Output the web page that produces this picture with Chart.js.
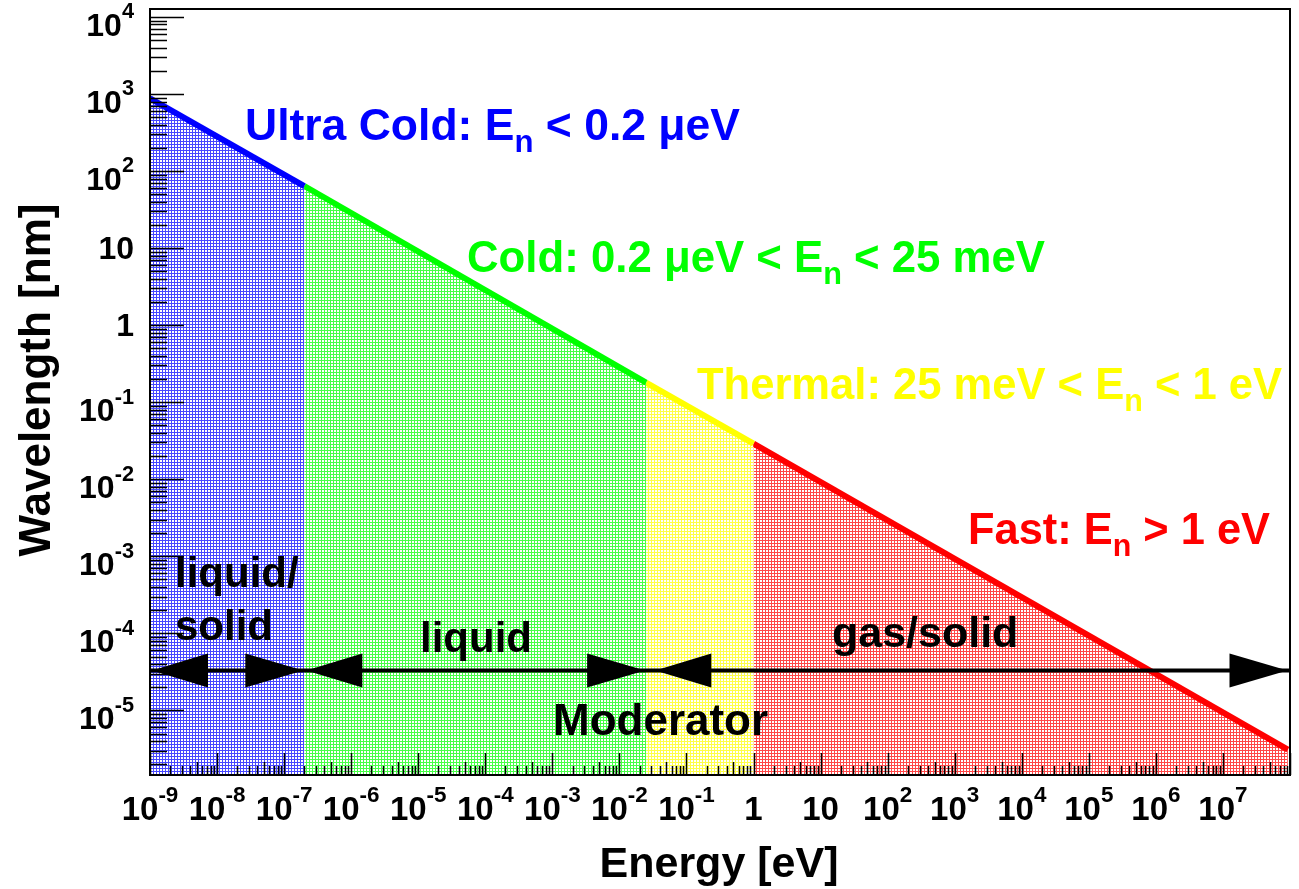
<!DOCTYPE html>
<html>
<head>
<meta charset="utf-8">
<script src="https://cdn.jsdelivr.net/npm/chart.js@4.4.0/dist/chart.umd.min.js"></script>
<style>
html, body { margin: 0; padding: 0; background: #fff; }
#wrap { width: 1299px; height: 889px; }
</style>
</head>
<body>
<div id="wrap"><canvas id="neutronChart" width="1299" height="889"></canvas></div>
<script>
// energy [eV] and wavelength [nm] at the ends of each region
const ultraColdE = [1e-9, 2e-7];
const ultraColdL = [880, 64];
const coldE = [2e-7, 0.025];
const coldL = [64, 0.18];
const thermalE = [0.025, 1];
const thermalL = [0.18, 0.029];
const fastE = [1, 9.3e7];
const fastL = [0.029, 3.1e-6];

// moderator arrows, [from, to] in eV at one wavelength
const moderatorY = 3.3e-5;
const moderatorSpans = [[1e-9, 2e-7], [2e-7, 0.025], [0.032, 9.5e7]];

// axis ticks
const xTickValues = [1e-9, 1e-8, 1e-7, 1e-6, 1e-5, 1e-4, 1e-3, 1e-2, 1e-1, 1, 10, 1e2, 1e3, 1e4, 1e5, 1e6, 1e7];
const xTickLabels = ['10^-9', '10^-8', '10^-7', '10^-6', '10^-5', '10^-4', '10^-3', '10^-2', '10^-1', '1', '10', '10^2', '10^3', '10^4', '10^5', '10^6', '10^7'];
const yTickValues = [1e-5, 1e-4, 1e-3, 1e-2, 1e-1, 1, 10, 1e2, 1e3, 1e4];
const yTickLabels = ['10^-5', '10^-4', '10^-3', '10^-2', '10^-1', '1', '10', '10^2', '10^3', '10^4'];

const FONT = '"Liberation Sans", Arial, Helvetica, sans-serif';

// dotted fill like ROOT's fill style
function makePattern(r, g, b) {
    const c = document.createElement('canvas');
    c.width = 3; c.height = 3;
    const p = c.getContext('2d');
    p.fillStyle = '#fff';
    p.fillRect(0, 0, 3, 3);
    p.fillStyle = 'rgba(' + r + ',' + g + ',' + b + ',0.72)';
    p.fillRect(0, 0, 3, 1);
    p.fillRect(0, 1, 1, 2);
    return p.createPattern(c, 'repeat');
}

function pts(xs, ys) {
    return xs.map((x, i) => ({x: x, y: ys[i]}));
}

function region(xs, ys, rgb) {
    return {
        data: pts(xs, ys),
        borderColor: 'rgb(' + rgb.join(',') + ')',
        borderWidth: 6,
        backgroundColor: makePattern(rgb[0], rgb[1], rgb[2]),
        fill: 'start',
        pointRadius: 0
    };
}

// draws text made of parts [text, 'sub' | 'sup' | '']
function drawRich(ctx, parts, x, y, size, color, align, width) {
    ctx.save();
    ctx.fillStyle = color;
    ctx.textAlign = 'left';
    ctx.textBaseline = 'alphabetic';
    let total = 0;
    const items = parts.map(p => {
        const s = p[1] === 'sub' ? size * 0.7 : p[1] === 'sup' ? size * 0.68 : size;
        ctx.font = 'bold ' + s + 'px ' + FONT;
        const w = ctx.measureText(p[0]).width;
        total += w;
        return {t: p[0], s: s, w: w, dy: p[1] === 'sub' ? size * 0.28 : p[1] === 'sup' ? -size * 0.55 : 0};
    });
    const k = width ? width / total : 1;
    let x0 = x;
    if (align === 'center') x0 = x - total * k / 2;
    if (align === 'right') x0 = x - total * k;
    ctx.translate(x0, y);
    ctx.scale(k, 1);
    let cx = 0;
    items.forEach(it => {
        ctx.font = 'bold ' + it.s + 'px ' + FONT;
        ctx.fillText(it.t, cx, it.dy);
        cx += it.w;
    });
    ctx.restore();
}

function tickParts(label) {
    const bits = label.split('^');
    return bits.length > 1 ? [[bits[0], ''], [bits[1], 'sup']] : [[bits[0], '']];
}

const rootStyle = {
    id: 'rootStyle',
    afterDatasetsDraw(chart) {
        const ctx = chart.ctx;
        const a = chart.chartArea;
        const xs = chart.scales.x;
        const ys = chart.scales.y;

        // ticks inside the frame
        ctx.save();
        ctx.strokeStyle = '#000';
        ctx.lineWidth = 1.5;
        ctx.beginPath();
        for (let e = -6; e <= 4; e++) {
            for (let k = 1; k <= 9; k++) {
                const v = k * Math.pow(10, e);
                if (v < ys.min || v > ys.max) continue;
                const py = Math.round(ys.getPixelForValue(v)) + 0.5;
                ctx.moveTo(a.left, py);
                ctx.lineTo(a.left + (k === 1 ? 34 : 17), py);
            }
        }
        for (let e = -9; e <= 8; e++) {
            for (let k = 1; k <= 9; k++) {
                const v = k * Math.pow(10, e);
                if (v < xs.min || v > xs.max) continue;
                const px = Math.round(xs.getPixelForValue(v)) + 0.5;
                ctx.moveTo(px, a.bottom);
                ctx.lineTo(px, a.bottom - (k === 1 ? 22 : (k === 5 ? 13 : 9)));
            }
        }
        ctx.stroke();

        // frame
        ctx.lineWidth = 2;
        ctx.strokeRect(a.left, a.top, a.right - a.left, a.bottom - a.top);
        ctx.restore();

        // arrow heads
        const ay = ys.getPixelForValue(moderatorY);
        ctx.save();
        ctx.fillStyle = '#000';
        moderatorSpans.forEach(s => {
            const p1 = xs.getPixelForValue(s[0]) + 2;
            const p2 = xs.getPixelForValue(s[1]) - 1;
            ctx.beginPath();
            ctx.moveTo(p1, ay);
            ctx.lineTo(p1 + 56, ay - 17);
            ctx.lineTo(p1 + 56, ay + 17);
            ctx.closePath();
            ctx.fill();
            ctx.beginPath();
            ctx.moveTo(p2, ay);
            ctx.lineTo(p2 - 58, ay - 17);
            ctx.lineTo(p2 - 58, ay + 17);
            ctx.closePath();
            ctx.fill();
        });
        ctx.restore();

        // tick labels
        xTickValues.forEach((v, i) => {
            drawRich(ctx, tickParts(xTickLabels[i]), xs.getPixelForValue(v), 820, 33, '#000', 'center');
        });
        yTickValues.forEach((v, i) => {
            const parts = tickParts(yTickLabels[i]);
            const off = parts.length > 1 ? 19 : 11;
            drawRich(ctx, parts, 134, ys.getPixelForValue(v) + off, 32, '#000', 'right');
        });

        // axis titles
        drawRich(ctx, [['Energy [eV]', '']], 719, 877, 43, '#000', 'center');
        ctx.save();
        ctx.translate(50, 380);
        ctx.rotate(-Math.PI / 2);
        drawRich(ctx, [['Wavelength [nm]', '']], 0, 0, 44, '#000', 'center');
        ctx.restore();

        // region labels
        drawRich(ctx, [['Ultra Cold: E', ''], ['n', 'sub'], [' < 0.2 \u03bceV', '']], 245, 140, 44, '#0000ff', 'left', 495);
        drawRich(ctx, [['Cold: 0.2 \u03bceV < E', ''], ['n', 'sub'], [' < 25 meV', '']], 467, 272, 44, '#00ff00', 'left', 578);
        drawRich(ctx, [['Thermal: 25 meV < E', ''], ['n', 'sub'], [' < 1 eV', '']], 697, 399, 44, '#ffff00', 'left', 585);
        drawRich(ctx, [['Fast: E', ''], ['n', 'sub'], [' > 1 eV', '']], 968, 544, 44, '#ff0000', 'left', 302);

        // moderator labels
        drawRich(ctx, [['liquid/', '']], 175, 587, 42, '#000', 'left');
        drawRich(ctx, [['solid', '']], 175, 640, 42, '#000', 'left');
        drawRich(ctx, [['liquid', '']], 420, 652, 42, '#000', 'left');
        drawRich(ctx, [['gas/solid', '']], 832, 647, 43, '#000', 'left');
        drawRich(ctx, [['Moderator', '']], 553, 735, 44, '#000', 'left');
    }
};

const ctx = document.getElementById('neutronChart').getContext('2d');
const neutronChart = new Chart(ctx, {
    type: 'line',
    data: {
        datasets: [
            region(ultraColdE, ultraColdL, [0, 0, 255]),
            region(coldE, coldL, [0, 255, 0]),
            region(thermalE, thermalL, [255, 255, 0]),
            region(fastE, fastL, [255, 0, 0]),
            {
                data: pts([1e-9, 1e8], [moderatorY, moderatorY]),
                borderColor: '#000',
                borderWidth: 4,
                fill: false,
                pointRadius: 0,
                order: -1
            }
        ]
    },
    options: {
        responsive: false,
        animation: false,
        devicePixelRatio: 1,
        layout: { padding: { left: 150, top: 9, right: 9, bottom: 114 } },
        scales: {
            x: { type: 'logarithmic', min: 1e-9, max: 1e8, display: false },
            y: { type: 'logarithmic', min: 1.45e-6, max: 1.27e4, display: false }
        },
        plugins: {
            legend: { display: false },
            tooltip: { enabled: false }
        },
        elements: { line: { tension: 0 } }
    },
    plugins: [rootStyle]
});
</script>
</body>
</html>
